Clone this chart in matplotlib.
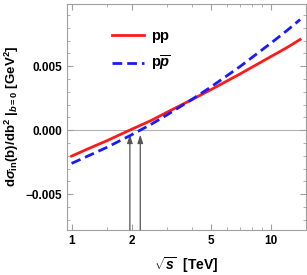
import matplotlib
matplotlib.use("Agg")
import matplotlib.pyplot as plt
from matplotlib.ticker import FixedLocator, NullFormatter, MultipleLocator

# values
sqrt_s = [1.0, 1.2, 1.5, 2.0, 2.5, 3.0, 4.0, 5.0, 7.0, 10.0, 12.0, 14.0]
pp = [-0.00203, -0.00148, -0.00083, 0.00007, 0.00075, 0.00139, 0.00238,
      0.00317, 0.00440, 0.00576, 0.00645, 0.00709]
ppbar = [-0.00260, -0.00204, -0.00135, -0.00036, 0.00045, 0.00118, 0.00239,
         0.00338, 0.00498, 0.00681, 0.00778, 0.00865]
zero_cross = [1.96, 2.21]
xticks = [1, 2, 5, 10]
xtick_labels = ["1", "2", "5", "10"]

plt.rcParams['font.family'] = 'Liberation Sans'
plt.rcParams['font.weight'] = 'bold'
plt.rcParams['mathtext.fontset'] = 'custom'
plt.rcParams['mathtext.rm'] = 'Liberation Sans:bold'
plt.rcParams['mathtext.it'] = 'Liberation Sans:italic:bold'
plt.rcParams['mathtext.bf'] = 'Liberation Sans:bold'

fig = plt.figure(figsize=(3.07, 2.75), dpi=100)
ax = fig.add_axes([0.217, 0.164, 0.78, 0.823])

ax.axhline(0, color='#b0b0b0', lw=0.8, zorder=1)
ax.plot(sqrt_s, pp, color='#ff1a1a', lw=2, label='pp', zorder=3)
ax.plot(sqrt_s, ppbar, color='#1a1aff', lw=2, ls=(0, (3.5, 1.8)),
        label=r'p$\overline{p}$', zorder=4)

ymin, ymax = -0.0078, 0.0099
for xc in zero_cross:
    ax.annotate('', xy=(xc, -0.00035), xytext=(xc, ymin),
                arrowprops=dict(arrowstyle='-|>,head_width=0.18,head_length=0.55',
                                color='#555555', lw=0.9,
                                mutation_scale=9, shrinkA=0, shrinkB=0))

ax.set_xscale('log')
ax.set_xlim(0.944, 15.0)
ax.set_ylim(ymin, ymax)
ax.xaxis.set_major_locator(FixedLocator(xticks))
ax.set_xticklabels(xtick_labels)
ax.xaxis.set_minor_locator(FixedLocator([1.5, 3, 4, 6, 7, 8, 9, 15]))
ax.xaxis.set_minor_formatter(NullFormatter())
ax.yaxis.set_major_locator(MultipleLocator(0.005))
ax.yaxis.set_minor_locator(MultipleLocator(0.001))
ax.yaxis.set_major_formatter(plt.FuncFormatter(
    lambda v, p: ('%.3f' % v).replace('-', '\u2212') if abs(v) > 1e-9 else '0.000'))

for s in ax.spines.values():
    s.set_color('#a0a0a0')
    s.set_linewidth(0.8)
ax.tick_params(which='both', direction='in', top=True, right=True,
               colors='#a0a0a0', labelcolor='black', labelsize=8.5)
ax.tick_params(which='major', length=4)
ax.tick_params(which='minor', length=2)

ax.set_xlabel(r'$\sqrt{s}$  [TeV]', fontsize=10, fontweight='bold', labelpad=6)
ax.set_ylabel(r'd$\sigma_{\rm in}$(b)/db$^2$ |$_{b=0}$ [GeV$^2$]',
              fontsize=9.5, fontweight='bold', labelpad=3)

leg = ax.legend(loc='upper left', bbox_to_anchor=(0.135, 0.945), frameon=False,
                fontsize=10.5, handlelength=2.2, handletextpad=0.5,
                labelspacing=0.75)
for t in leg.get_texts():
    t.set_fontweight('bold')

fig.savefig('out.png', dpi=100)
